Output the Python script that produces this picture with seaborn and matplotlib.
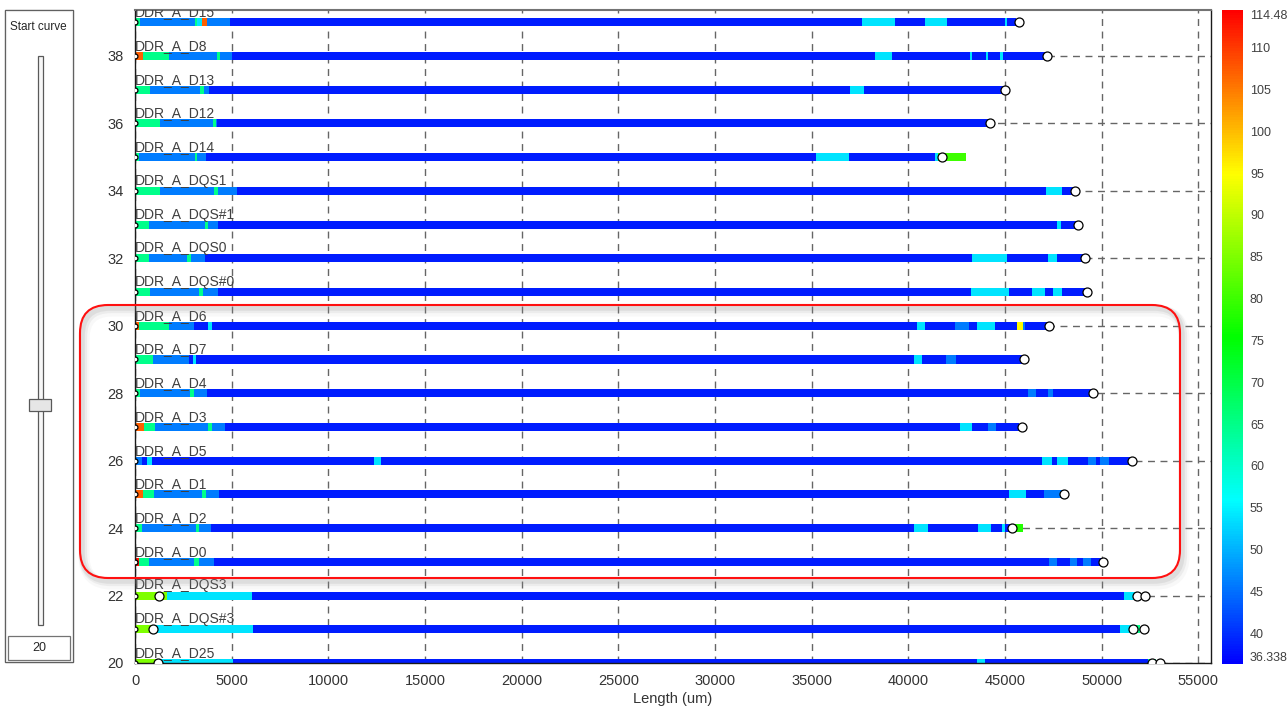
import matplotlib
matplotlib.use("Agg")
import matplotlib.pyplot as plt
import numpy as np
import pandas as pd
import seaborn as sns
from matplotlib.colors import LinearSegmentedColormap, Normalize
from matplotlib.cm import ScalarMappable
from matplotlib.patches import FancyBboxPatch, Rectangle

# Data: one row per net, impedance segments along the trace length (um)
nets = ["DDR_A_D15", "DDR_A_D8", "DDR_A_D13", "DDR_A_D12", "DDR_A_D14",
        "DDR_A_DQS1", "DDR_A_DQS#1", "DDR_A_DQS0", "DDR_A_DQS#0", "DDR_A_D6",
        "DDR_A_D7", "DDR_A_D4", "DDR_A_D3", "DDR_A_D5", "DDR_A_D1",
        "DDR_A_D2", "DDR_A_D0", "DDR_A_DQS3", "DDR_A_DQS#3", "DDR_A_D25"]
rows = [39, 38, 37, 36, 35, 34, 33, 32, 31, 30, 29, 28, 27, 26, 25, 24, 23, 22, 21, 20]

seg_edges = [
    [0, 260, 3100, 3200, 3470, 3700, 3750, 4900, 37600, 39300, 40870, 42010, 45010, 45110, 45550],
    [0, 400, 1760, 4240, 4380, 5000, 38280, 39160, 43200, 43300, 44000, 44100, 44750, 44900, 47080],
    [0, 780, 3360, 3570, 3810, 37000, 37700, 44950],
    [0, 1290, 4040, 4180, 4240, 44180],
    [0, 200, 3100, 3220, 3670, 35250, 36950, 41400, 41550, 43000],
    [0, 1290, 4090, 4310, 5270, 47150, 47930, 48500],
    [0, 700, 3600, 3800, 4300, 47700, 47900, 48720],
    [0, 700, 2700, 2900, 3600, 43300, 45100, 47230, 47700, 49040],
    [0, 800, 3300, 3500, 4300, 43250, 45200, 46400, 47080, 47500, 47970, 49200],
    [0, 200, 1760, 3050, 3800, 3960, 40450, 40870, 42420, 43150, 43560, 44490, 45630, 45940, 46040, 47180],
    [0, 930, 2790, 3000, 3150, 40300, 40710, 41950, 42470, 45900],
    [0, 260, 2840, 3070, 3720, 46200, 46610, 47230, 47490, 49510],
    [0, 470, 1030, 3790, 3960, 4640, 42680, 43300, 44130, 44540, 45730],
    [0, 350, 620, 880, 12360, 12730, 46920, 47440, 47700, 48270, 49300, 49710, 49920, 50390, 51470],
    [0, 400, 1000, 3470, 3690, 4350, 45210, 46080, 47030, 47960],
    [0, 350, 3150, 3320, 3930, 40300, 41020, 43610, 44280, 44840, 45000, 45520, 45940],
    [0, 200, 720, 3050, 3290, 4090, 47280, 47700, 48370, 48730, 49040, 49460, 50020],
    [0, 1650, 6050, 51160, 51900],
    [0, 950, 6100, 50960, 51800, 52000],
    [0, 1100, 5070, 43560, 43970, 52400, 52800],
]
seg_z = [
    [65, 46, 65, 54, 107, 65, 46, 38.5, 54, 38.5, 54, 38.5, 54, 38.5],
    [107, 65, 46, 65, 46, 38.5, 54, 38.5, 54, 38.5, 54, 38.5, 54, 38.5],
    [65, 46, 65, 46, 38.5, 54, 38.5],
    [65, 46, 65, 46, 38.5],
    [65, 46, 65, 46, 38.5, 54, 38.5, 54, 80],
    [65, 46, 65, 46, 38.5, 54, 38.5],
    [65, 46, 65, 46, 38.5, 54, 38.5],
    [65, 46, 65, 46, 38.5, 54, 38.5, 54, 38.5],
    [65, 46, 65, 46, 38.5, 54, 38.5, 54, 38.5, 54, 38.5],
    [107, 65, 46, 38.5, 54, 38.5, 54, 38.5, 46, 38.5, 54, 38.5, 95, 46, 38.5],
    [65, 46, 38.5, 54, 38.5, 54, 38.5, 46, 38.5],
    [65, 46, 65, 46, 38.5, 46, 38.5, 46, 38.5],
    [107, 65, 46, 65, 46, 38.5, 54, 38.5, 46, 38.5],
    [46, 38.5, 54, 38.5, 54, 38.5, 54, 38.5, 54, 38.5, 46, 38.5, 46, 38.5],
    [107, 65, 46, 65, 46, 38.5, 54, 38.5, 46],
    [65, 46, 65, 46, 38.5, 54, 38.5, 54, 38.5, 54, 38.5, 78],
    [113, 65, 46, 65, 46, 38.5, 46, 38.5, 46, 38.5, 46, 38.5],
    [85, 54, 38.5, 54],
    [85, 54, 38.5, 54, 65],
    [85, 54, 38.5, 54, 38.5, 65],
]
end_marks = [[45730], [47180], [44980], [44230], [41750], [48630], [48780], [49140],
             [49250], [47280], [45990], [49560], [45890], [51580], [48060], [45370],
             [50080], [1240, 51830, 52250], [950, 51630, 52200], [1200, 52610, 53030]]

z_min, z_max = 36.338, 114.48
cbar_ticks = [40, 45, 50, 55, 60, 65, 70, 75, 80, 85, 90, 95, 100, 105, 110]
x_ticks = list(range(0, 55001, 5000))
y_ticks = list(range(20, 39, 2))
slider_value = "20"

# long tables
seg_rows = []
for net, r, e, z in zip(nets, rows, seg_edges, seg_z):
    for i in range(len(z)):
        seg_rows.append((net, r, e[i], e[i + 1] - e[i], z[i]))
segs = pd.DataFrame(seg_rows, columns=["net", "row", "left", "width", "z"])
ends = pd.DataFrame([(r, x) for r, m in zip(rows, end_marks) for x in m], columns=["row", "x"])
starts = pd.DataFrame({"row": rows, "x": [0] * len(rows)})

sns.set_style("white")
plt.rcParams['font.family'] = ['Liberation Sans', 'DejaVu Sans']

cmap = LinearSegmentedColormap.from_list("imp", ["#0000ff", "#00ffff", "#00ff00", "#ffff00", "#ff0000"])
norm = Normalize(z_min, z_max)

W, H = 1287, 714
fig = plt.figure(figsize=(W / 100, H / 100), dpi=100)
ax = fig.add_axes([135 / W, 1 - 663 / H, (1211 - 135) / W, (663 - 10) / H])

ax.barh(segs["row"], segs["width"], left=segs["left"], height=0.24,
        color=cmap(norm(segs["z"].values)), linewidth=0, zorder=2)
sns.scatterplot(data=starts, x="x", y="row", ax=ax, s=12, color="white",
                edgecolor="black", linewidth=0.9, zorder=3, legend=False)
sns.scatterplot(data=ends, x="x", y="row", ax=ax, s=42, color="white",
                edgecolor="black", linewidth=0.9, zorder=3, legend=False)

for net, r in zip(nets, rows):
    ax.text(0, r + 0.18, net, fontsize=10, color="0.25", va="baseline", ha="left",
            family=['Liberation Sans Narrow', 'Liberation Sans'], clip_on=True, zorder=4)

ax.set_xlim(0, 55660)
ax.set_ylim(20, 39.364)
ax.set_xticks(x_ticks)
ax.set_yticks(y_ticks)
ax.set_xlabel("Length (um)", fontsize=10.5, color="0.2", labelpad=3)
ax.set_ylabel("")
ax.tick_params(axis="both", direction="out", length=5, width=1, colors="0.15",
               labelsize=10.5, pad=3)
ax.tick_params(axis="both", labelcolor="0.2")
ax.grid(True, linestyle=(0, (5, 4)), color="0.4", linewidth=1)
ax.set_axisbelow(True)
for s in ["left", "bottom", "right"]:
    ax.spines[s].set_color("0.1")
    ax.spines[s].set_linewidth(1)
ax.spines["top"].set_color("0.45")
ax.spines["top"].set_linewidth(1.5)

# colorbar
cax = fig.add_axes([1222 / W, 1 - 664 / H, 21 / W, 654 / H])
cb = fig.colorbar(ScalarMappable(norm=norm, cmap=cmap), cax=cax)
cb.outline.set_visible(False)
cb.set_ticks([z_min] + cbar_ticks + [z_max])
cb.set_ticklabels(["36.338"] + [str(t) for t in cbar_ticks] + ["114.48"])
cax.tick_params(length=0, pad=5, labelsize=9, labelcolor="0.25")
tl = cax.get_yticklabels()
tl[0].set_va("bottom")
tl[-1].set_va("top")

# overlay in pixel coordinates: slider panel and highlight frame
ov = fig.add_axes([0, 0, 1, 1], zorder=10)
ov.set_xlim(0, W)
ov.set_ylim(H, 0)
ov.axis("off")
ov.patch.set_alpha(0)

ov.add_patch(Rectangle((5, 10), 68, 652, fill=False, edgecolor="0.35", linewidth=1))
ov.add_patch(Rectangle((6, 11), 66, 650, fill=False, edgecolor="0.9", linewidth=0.8))
ov.text(38, 27, "Start curve", ha="center", va="center", fontsize=8.5, color="0.15",
        family=['Liberation Sans Narrow', 'Liberation Sans'])
ov.add_patch(Rectangle((38, 56), 5, 569, facecolor="0.97", edgecolor="0.35", linewidth=0.9))
ov.add_patch(Rectangle((29, 399), 22, 12, facecolor="0.9", edgecolor="0.35", linewidth=0.9))
ov.add_patch(Rectangle((8, 636), 62, 24, facecolor="white", edgecolor="0.45", linewidth=0.9))
ov.text(39, 648, slider_value, ha="center", va="center", fontsize=9, color="0.15")

for dx, dy, lw, a in [(4, 6, 8, 0.06), (3, 4, 6, 0.1), (2, 3, 4, 0.15)]:
    ov.add_patch(FancyBboxPatch((80 + dx, 305 + dy), 1100, 273,
                                boxstyle="round,pad=0,rounding_size=28",
                                fill=False, edgecolor="0.55", linewidth=lw, alpha=a))
ov.add_patch(FancyBboxPatch((80, 305), 1100, 273, boxstyle="round,pad=0,rounding_size=28",
                            fill=False, edgecolor="#ff1010", linewidth=1.5))

fig.savefig("out.png", dpi=100)
